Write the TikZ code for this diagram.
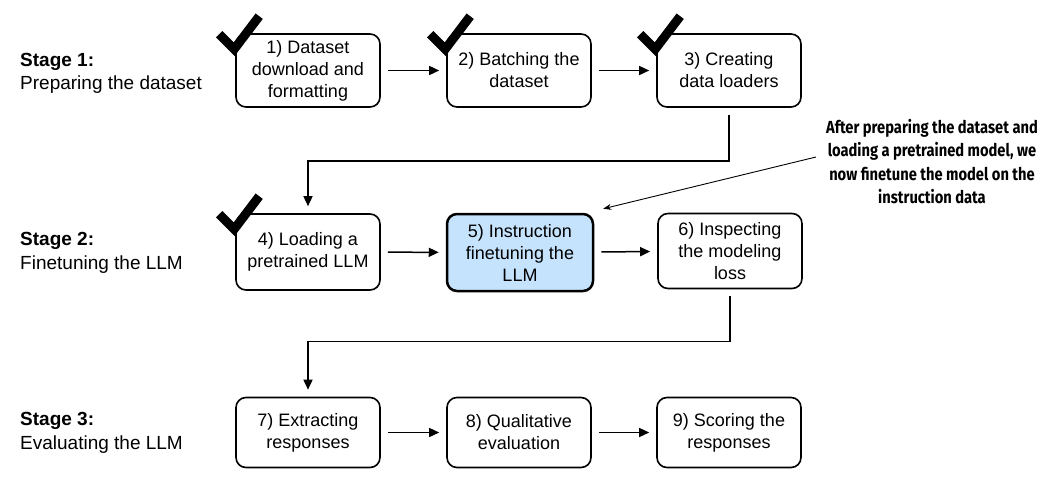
\documentclass[tikz,border=0pt]{standalone}
\usepackage{fontspec}
\setmainfont{Liberation Sans}
\newfontfamily\annfont[FakeStretch=0.84]{Fira Sans}
\usetikzlibrary{arrows.meta,calc}
\definecolor{hl}{RGB}{197,227,252}
\tikzset{
  stepbox/.style={draw, line width=1.6pt, rounded corners=10pt, minimum width=144pt,
    align=center, inner sep=0pt, font=\fontsize{18}{22}\selectfont},
  hlbox/.style={stepbox, fill=hl, line width=2.5pt},
  conn/.style={-{Triangle[length=10pt,width=9pt]}, line width=1.5pt, shorten <=7pt, shorten >=7pt},
  note/.style={-{Stealth[length=8pt,width=6pt]}, line width=0.9pt},
  tick/.style={line width=9pt, line join=miter, line cap=butt},
  stagelbl/.style={anchor=west, align=left, inner sep=0pt, font=\fontsize{19}{23.5}\selectfont},
  annlbl/.style={align=center, inner sep=0pt, font=\annfont\bfseries\fontsize{17.5}{23.6}\selectfont}
}
\begin{document}
\begin{tikzpicture}[x=1pt,y=-1pt]
\useasboundingbox (0,0) rectangle (1042,482);

% stage labels
\node[stagelbl] (s1) at (20,73.5) {\textbf{Stage 1:}\\Preparing the dataset};
\node[stagelbl] (s2) at (20,253) {\textbf{Stage 2:}\\Finetuning the LLM};
\node[stagelbl] (s3) at (20,433) {\textbf{Stage 3:}\\Evaluating the LLM};

% row 1
\node[stepbox, minimum height=73pt] (b1) at (308,70.5) {1) Dataset\\download and\\formatting};
\node[stepbox, minimum height=73pt] (b2) at (519,70.5) {2) Batching the\\dataset};
\node[stepbox, minimum height=73pt] (b3) at (729,70.5) {3) Creating\\data loaders};

% row 2
\node[stepbox, minimum height=76pt] (b4) at (308,252) {4) Loading a\\pretrained LLM};
\node[hlbox, minimum width=146pt, minimum height=77pt] (b5) at (520,252.5) {5) Instruction\\finetuning the\\LLM};
\node[stepbox, minimum height=75pt] (b6) at (730,251) {6) Inspecting\\the modeling\\loss};

% row 3
\node[stepbox, minimum height=70pt] (b7) at (308,432.5) {7) Extracting\\responses};
\node[stepbox, minimum height=70pt] (b8) at (519,432.5) {8) Qualitative\\evaluation};
\node[stepbox, minimum height=70pt] (b9) at (729,432.5) {9) Scoring the\\responses};

% horizontal arrows
\draw[conn] (b1) -- (b2);
\draw[conn] (b2) -- (b3);
\draw[conn] (b4) -- (b5);
\draw[conn] (b5) -- (b6);
\draw[conn] (b7) -- (b8);
\draw[conn] (b8) -- (b9);

% elbow connectors
\draw[conn] (b3.south) -- ($(b3.south)+(0,53)$) -| (b4.north);
\draw[conn] (b6.south) -- ($(b6.south)+(0,52)$) -| (b7.north);

% check marks
\foreach \b in {b1,b2,b3,b4}{
  \draw[tick] ($(\b.north west)+(-16,1)$) -- ($(\b.north west)+(-1,16)$) -- ($(\b.north west)+(24,-17)$);
}

% annotation
\node[annlbl] (ann) at (932,161.5) {After preparing the dataset and\\loading a pretrained model, we\\now finetune the model on the\\instruction data};
\coordinate (annstart) at (816,157);
\draw[note] (annstart) -- ($(b5.north east)+(9,-4)$);
\end{tikzpicture}
\end{document}
